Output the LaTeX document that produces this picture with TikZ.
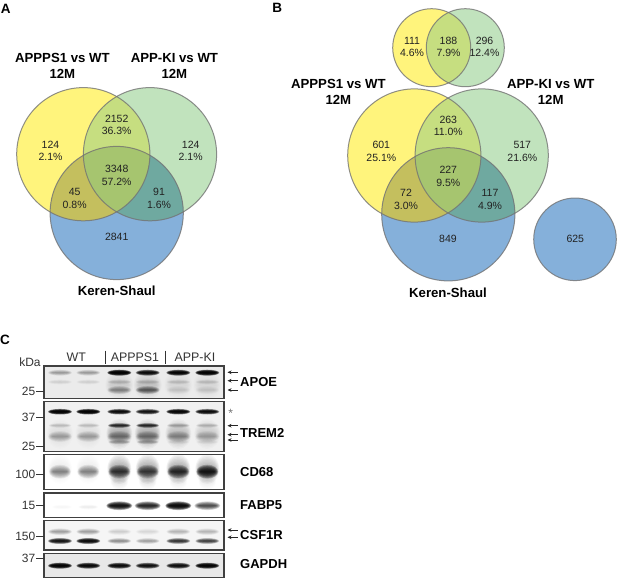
\documentclass[tikz,border=0pt]{standalone}
\usepackage{fontspec}
\setmainfont{Liberation Sans}
\usetikzlibrary{arrows.meta}
\definecolor{vY}{HTML}{FFF47C}
\definecolor{vG}{HTML}{C1E3BD}
\definecolor{vB}{HTML}{85B0DA}
\definecolor{vYG}{HTML}{C6DE80}
\definecolor{vYB}{HTML}{C4BF5E}
\definecolor{vGB}{HTML}{6FA9A0}
\definecolor{vYGB}{HTML}{A6C56F}
\definecolor{numC}{HTML}{222222}
\tikzset{
  vennedge/.style={draw=black!55,draw opacity=.8,line width=1pt},
  num/.style={font=\fontsize{10.5}{12.7}\selectfont,align=center,text=numC,inner sep=0pt},
  vlabel/.style={font=\fontsize{13.2}{16}\selectfont\bfseries,align=center,inner sep=0pt},
  panelletter/.style={font=\fontsize{13.5}{16}\selectfont\bfseries,inner sep=0pt},
  lane/.style={font=\fontsize{12.4}{14}\selectfont,text=black!80,inner sep=0pt},
  kd/.style={font=\fontsize{12}{14}\selectfont,text=black!80,inner sep=0pt,anchor=east},
  prot/.style={font=\fontsize{13}{15}\selectfont\bfseries,inner sep=0pt,anchor=west},
  tick/.style={draw=black!80,line width=.8pt},
  blotframe/.style={draw=black!75,line width=1.2pt},
  mark arrow/.style={-{Stealth[length=4pt,width=3.6pt]},line width=.75pt,black!85}
}
\newcommand{\tripleVenn}[7]{%
  \fill[vY] (#1,#2) circle (#7);
  \fill[vG] (#3,#4) circle (#7);
  \fill[vB] (#5,#6) circle (#7);
  \begin{scope}\clip (#1,#2) circle (#7); \fill[vYG] (#3,#4) circle (#7); \fill[vYB] (#5,#6) circle (#7);
    \begin{scope}\clip (#3,#4) circle (#7); \fill[vYGB] (#5,#6) circle (#7);\end{scope}
  \end{scope}
  \begin{scope}\clip (#3,#4) circle (#7);
    \begin{scope}[even odd rule]\clip (#1,#2) circle (#7) (-10,-10) rectangle (700,700); \fill[vGB] (#5,#6) circle (#7);\end{scope}
  \end{scope}
  \draw[vennedge] (#5,#6) circle (#7);
  \draw[vennedge] (#1,#2) circle (#7);
  \draw[vennedge] (#3,#4) circle (#7);
}
% blurred band: x, y, half width, half height, opacity per layer
\newcommand{\bnd}[5]{%
  \foreach \s in {1,.9,.8,.7,.6,.5,.4,.3,.2,.1}{
    \fill[black,fill opacity=#5] (#1,#2) ellipse [x radius={#3*(.6+.4*\s)}, y radius={#4*\s}];
  }%
}
\newcommand{\lanerow}[4]{%
  \foreach \lx/\lo in {#4}{\bnd{\lx}{#1}{#2}{#3}{\lo}}%
}
\begin{document}
\begin{tikzpicture}[x=1pt,y=-1pt]
\useasboundingbox (0,0) rectangle (617,578);
% ---------- A
\tripleVenn{83.3}{154.2}{150}{154.2}{116.7}{213}{66.6}
\node[panelletter] (la) at (5.7,8.5) {A};
\node[vlabel] (a1) at (62.4,65.7) {APPPS1 vs WT\\12M};
\node[vlabel] (a2) at (174.4,65.7) {APP-KI vs WT\\12M};
\node[vlabel] (a3) at (116.7,291) {Keren-Shaul};
\node[num] (an1) at (50.5,151) {124\\2.1\%};
\node[num] (an2) at (116.7,125) {2152\\36.3\%};
\node[num] (an3) at (190.7,151) {124\\2.1\%};
\node[num] (an4) at (116.7,175.3) {3348\\57.2\%};
\node[num] (an5) at (74.7,198.3) {45\\0.8\%};
\node[num] (an6) at (159,198.3) {91\\1.6\%};
\node[num] (an7) at (116.7,237.3) {2841};
% ---------- B
\node[panelletter] (lb) at (277.3,8) {B};
\fill[vY] (431.7,47.7) circle (39);
\fill[vG] (465.3,47.7) circle (39);
\begin{scope}\clip (431.7,47.7) circle (39); \fill[vYG] (465.3,47.7) circle (39);\end{scope}
\draw[vennedge] (431.7,47.7) circle (39);
\draw[vennedge] (465.3,47.7) circle (39);
\tripleVenn{414.3}{155.5}{481.7}{155.5}{448.3}{214.3}{66.6}
\fill[vB] (575,239.3) circle (41.3);
\draw[vennedge] (575,239.3) circle (41.3);
\node[vlabel] (b1) at (338.4,92) {APPPS1 vs WT\\12M};
\node[vlabel] (b2) at (550.7,92) {APP-KI vs WT\\12M};
\node[vlabel] (b3) at (448,292.7) {Keren-Shaul};
\node[num] (bs1) at (412,47) {111\\4.6\%};
\node[num] (bs2) at (448.5,47) {188\\7.9\%};
\node[num] (bs3) at (484.5,47) {296\\12.4\%};
\node[num] (bn1) at (381.3,151.7) {601\\25.1\%};
\node[num] (bn2) at (448.3,126) {263\\11.0\%};
\node[num] (bn3) at (522.3,151.7) {517\\21.6\%};
\node[num] (bn4) at (448.3,176.5) {227\\9.5\%};
\node[num] (bn5) at (406,199.7) {72\\3.0\%};
\node[num] (bn6) at (490,199.7) {117\\4.9\%};
\node[num] (bn7) at (448,238.7) {849};
\node[num] (bn8) at (575.3,238.7) {625};
% ---------- C
\node[panelletter] (lc) at (5,340) {C};
\node[lane] (wt) at (76.3,357.7) {WT};
\node[lane] (ap) at (135,357.7) {APPPS1};
\node[lane] (ki) at (195,357.7) {APP-KI};
\draw[tick] (105.3,350.7) -- (105.3,364);
\draw[tick] (165,350.7) -- (165,364);
\node[kd,anchor=center] (kda) at (30,362.7) {kDa};
% APOE
\begin{scope}
 \clip (44,366) rectangle (224,398.7);
 \fill[black!8] (44,366) rectangle (224,398.7);
 \lanerow{385}{14}{15}{119.3/.012,147.7/.016,178.3/.006,207.3/.006}
 \lanerow{372.7}{12}{3}{60/.04,88.3/.04,119.3/.36,147.7/.26,178.3/.3,207.3/.34}
 \lanerow{382}{12}{2.6}{60/.012,88.3/.012,119.3/.02,147.7/.02,178.3/.016,207.3/.016}
 \lanerow{390}{12}{4.2}{119.3/.05,147.7/.085,178.3/.01,207.3/.01}
\end{scope}
\draw[blotframe] (44,366) rectangle (224,398.7);
% TREM2
\begin{scope}
 \clip (44,401.3) rectangle (224,451.3);
 \fill[black!6] (44,401.3) rectangle (224,451.3);
 \lanerow{434}{13}{15}{60/.009,88.3/.009,119.3/.03,147.7/.03,178.3/.022,207.3/.016}
 \lanerow{411.7}{12}{2.8}{60/.34,88.3/.34,119.3/.26,147.7/.22,178.3/.3,207.3/.26}
 \lanerow{425.5}{11.5}{2.4}{60/.018,88.3/.018,119.3/.16,147.7/.16,178.3/.03,207.3/.025}
 \lanerow{436.5}{12}{5.5}{60/.035,88.3/.035,119.3/.05,147.7/.05,178.3/.04,207.3/.028}
 \lanerow{442}{11}{2.4}{119.3/.035,147.7/.035,178.3/.008,207.3/.006}
\end{scope}
\draw[blotframe] (44,401.3) rectangle (224,451.3);
% CD68
\begin{scope}
 \clip (44,454.7) rectangle (224,489.3);
 \fill[white] (44,454.7) rectangle (224,489.3);
 \lanerow{469}{12}{15}{60/.009,88.3/.009,119.3/.04,147.7/.04,178.3/.04,207.3/.035}
 \lanerow{471.7}{11}{7}{60/.055,88.3/.055,119.3/.12,147.7/.11,178.3/.14,207.3/.19}
 \lanerow{481}{9}{9}{119.3/.01,147.7/.012,178.3/.006,207.3/.006}
\end{scope}
\draw[blotframe] (44,454.7) rectangle (224,489.3);
% FABP5
\begin{scope}
 \clip (44,493) rectangle (224,517.7);
 \fill[white] (44,493) rectangle (224,517.7);
 \lanerow{507}{10}{2.5}{62/.003,88.3/.007}
 \lanerow{505.7}{13}{4.4}{119.3/.22,147.7/.17,178.3/.26,207.3/.11}
\end{scope}
\draw[blotframe] (44,493) rectangle (224,517.7);
% CSF1R
\begin{scope}
 \clip (44,520.7) rectangle (224,550);
 \fill[black!4] (44,520.7) rectangle (224,550);
 \lanerow{531.7}{12}{3.4}{60/.04,88.3/.04,119.3/.016,147.7/.012,178.3/.028,207.3/.028}
 \lanerow{541}{12}{3}{60/.22,88.3/.26,119.3/.05,147.7/.04,178.3/.14,207.3/.12}
\end{scope}
\draw[blotframe] (44,520.7) rectangle (224,550);
% GAPDH
\begin{scope}
 \clip (44,553.3) rectangle (224,577.3);
 \fill[black!9] (44,553.3) rectangle (224,577.3);
 \lanerow{565.7}{12}{3}{60/.32,88.3/.28,119.3/.26,147.7/.23,178.3/.24,207.3/.32}
\end{scope}
\draw[blotframe] (44,553.3) rectangle (224,577.3);
% size markers
\node[kd] (m1) at (35.5,391.7) {25};
\node[kd] (m2) at (35.5,417.3) {37};
\node[kd] (m3) at (35.5,446) {25};
\node[kd] (m4) at (35.5,474) {100};
\node[kd] (m5) at (35.5,505.7) {15};
\node[kd] (m6) at (35.5,536) {150};
\node[kd] (m7) at (35.5,558.7) {37};
\foreach \m in {m1,m2,m3,m4,m5,m6,m7}{
  \draw[tick] (\m.east) ++(0.5,0) -- ++(8,0);
}
% protein labels
\node[prot] (pa) at (240,382) {APOE};
\node[prot] (pt) at (240,433.3) {TREM2};
\node[prot] (pc) at (240,472) {CD68};
\node[prot] (pf) at (240,505.3) {FABP5};
\node[prot] (pk) at (240,535.3) {CSF1R};
\node[prot] (pg) at (240,564.3) {GAPDH};
\node[inner sep=0pt,text=black!55,font=\fontsize{12}{12}\selectfont] (star) at (230.7,413.5) {*};
% arrows
\foreach \n/\yy in {a/372.3,b/380.7,c/390,d/425.7,e/434.7,f/440,g/530,h/537.3}{
  \coordinate (ar\n s) at (237.7,\yy);
  \coordinate (ar\n t) at (227.5,\yy);
  \draw[mark arrow] (ar\n s) -- (ar\n t);
}
\end{tikzpicture}
\end{document}
